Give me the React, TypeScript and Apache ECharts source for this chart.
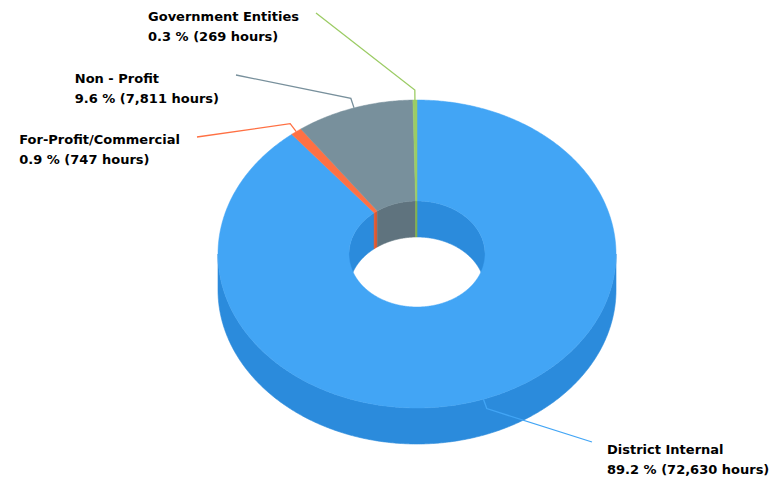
import React, { useEffect, useRef } from "react";
import * as echarts from "echarts";

// Volunteer hours by organisation type (drawn clockwise from 12 o'clock)
const NAMES = ["District Internal", "For-Profit/Commercial", "Non - Profit", "Government Entities"];
const HOURS = [72630, 747, 7811, 269];

const TOP_COLORS = ["#42a5f5", "#ff7043", "#78909c", "#9ccc65"];
const SIDE_COLORS = ["#2b8bdc", "#e2582f", "#5f737e", "#84b34e"];

// 3D donut geometry (orthographic tilt)
const CX = 417;
const CY = 254;
const RX = 199;
const RY = 154;
const IRX = 68;
const IRY = 53;
const DEPTH = 36;

// Label placement: where each connector ends, and the centre of the first text line
const LABEL_LAYOUT = [
  { side: "right", end: [592, 442], textY: 449 },
  { side: "left", end: [197, 137], textY: 139 },
  { side: "left", end: [236, 75], textY: 78 },
  { side: "left", end: [316, 13], textY: 16 },
];

const FONT = 'bold 13px "DejaVu Sans"';
const LINE_H = 20;

const TOTAL = HOURS.reduce((a, b) => a + b, 0);
const STARTS: number[] = [];
{
  let acc = 0;
  for (const v of HOURS) {
    STARTS.push((acc / TOTAL) * 360);
    acc += v;
  }
}

function pt(rx: number, ry: number, deg: number, dy = 0): number[] {
  const r = (deg * Math.PI) / 180;
  return [CX + rx * Math.sin(r), CY - ry * Math.cos(r) + dy];
}

function arc(rx: number, ry: number, a0: number, a1: number, dy = 0): number[][] {
  const n = Math.max(2, Math.ceil(Math.abs(a1 - a0) / 0.5));
  const pts: number[][] = [];
  for (let k = 0; k <= n; k++) pts.push(pt(rx, ry, a0 + ((a1 - a0) * k) / n, dy));
  return pts;
}

function band(rx: number, ry: number, a0: number, a1: number, color: string) {
  const top = arc(rx, ry, a0, a1);
  const bottom = arc(rx, ry, a1, a0, DEPTH);
  return {
    type: "polygon",
    shape: { points: top.concat(bottom) },
    style: { fill: color, stroke: color, lineWidth: 0.6 },
  };
}

function measure(text: string): number {
  const ctx = document.createElement("canvas").getContext("2d");
  if (!ctx) return text.length * 8;
  ctx.font = FONT;
  return ctx.measureText(text).width;
}

function sliceRange(i: number, v: number): [number, number] {
  const a0 = STARTS[i];
  return [a0, a0 + (v / TOTAL) * 360];
}

export default function App() {
  const ref = useRef<HTMLDivElement>(null);

  useEffect(() => {
    if (!ref.current) return;
    const chart = echarts.init(ref.current, null, { renderer: "svg" });
    const data = HOURS.map((v, i) => ({ value: v, name: NAMES[i] }));

    const wallsItem = (params: any, api: any) => {
      const i = params.dataIndex;
      const [a0, a1] = sliceRange(i, api.value(0));
      const children: any[] = [];
      // outer side wall: only the near half (90°..270°) faces the viewer
      const lo = Math.max(a0, 90);
      const hi = Math.min(a1, 270);
      if (hi > lo) children.push(band(RX, RY, lo, hi, SIDE_COLORS[i]));
      // inner wall: only the far half is seen through the hole
      const ranges: [number, number][] = [
        [0, 90],
        [270, 360],
      ];
      for (const [r0, r1] of ranges) {
        const l = Math.max(a0, r0);
        const h = Math.min(a1, r1);
        if (h > l) children.push(band(IRX, IRY, l, h, SIDE_COLORS[i]));
      }
      return { type: "group", children };
    };

    const topItem = (params: any, api: any) => {
      const i = params.dataIndex;
      const [a0, a1] = sliceRange(i, api.value(0));
      const pts = arc(RX, RY, a0, a1).concat(arc(IRX, IRY, a1, a0));
      return {
        type: "polygon",
        shape: { points: pts },
        style: { fill: TOP_COLORS[i], stroke: TOP_COLORS[i], lineWidth: 0.5 },
      };
    };

    const labelItem = (params: any, api: any) => {
      const i = params.dataIndex;
      const v = api.value(0);
      const [a0, a1] = sliceRange(i, v);
      const mid = (a0 + a1) / 2;
      const r = (mid * Math.PI) / 180;
      const start = pt(RX, RY, mid);
      const crook = [start[0] + 10 * Math.sin(r), start[1] - 10 * Math.cos(r)];
      const lay = LABEL_LAYOUT[i];
      const line1 = NAMES[i];
      const line2 = `${((v / TOTAL) * 100).toFixed(1)} % (${v.toLocaleString("en-US")} hours)`;
      const w = Math.max(measure(line1), measure(line2));
      const tx = lay.side === "left" ? lay.end[0] - 17 - w : lay.end[0] + 15;
      return {
        type: "group",
        children: [
          {
            type: "polyline",
            shape: { points: [start, crook, lay.end] },
            style: { stroke: TOP_COLORS[i], lineWidth: 1.3, fill: null },
          },
          {
            type: "text",
            style: {
              text: `${line1}\n${line2}`,
              x: tx,
              y: lay.textY - LINE_H / 2,
              font: FONT,
              lineHeight: LINE_H,
              fill: "#000000",
              align: "left",
              verticalAlign: "top",
            },
          },
        ],
      };
    };

    chart.setOption({
      animation: false,
      backgroundColor: "#ffffff",
      series: [
        { type: "custom", coordinateSystem: "none", z: 1, silent: true, data, renderItem: wallsItem },
        { type: "custom", coordinateSystem: "none", z: 2, silent: true, data, renderItem: topItem },
        { type: "custom", coordinateSystem: "none", z: 3, silent: true, data, renderItem: labelItem },
      ],
    });

    return () => chart.dispose();
  }, []);

  return (
    <div
      ref={ref}
      style={{ position: "fixed", left: 0, top: 0, width: 774, height: 481 }}
    />
  );
}
